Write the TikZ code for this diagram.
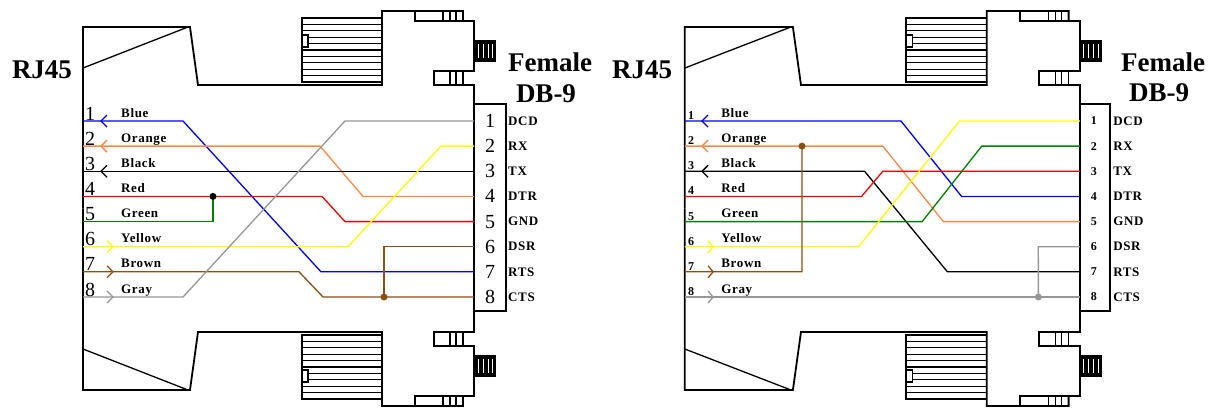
\documentclass[tikz,border=0pt]{standalone}
\usepackage{fontspec}
\setmainfont{Liberation Serif}
\newfontfamily\pixfont[LetterSpace=5]{Liberation Serif}
\definecolor{wblue}{RGB}{0,0,255}
\definecolor{worange}{RGB}{255,136,72}
\definecolor{wred}{RGB}{255,0,0}
\definecolor{wgreen}{RGB}{0,128,0}
\definecolor{wyellow}{RGB}{255,255,0}
\definecolor{wbrown}{RGB}{140,80,20}
\definecolor{wgray}{RGB}{150,150,150}
\newcommand{\halfshell}{%
	\draw[outline] (83,208.5) -- (83,27) -- (190,27) -- (198,85) -- (382,85) -- (382,11) -- (463,11) -- (463,21);
	\draw[line width=1.3pt] (83,68) -- (188,27);
	\draw[fin] (302,18) rectangle (382,82);
	\foreach \y in {24.4,30.8,37.2,43.6,50,56.4,62.8,69.2,75.6} \draw[fin] (302,\y) -- (382,\y);
	\draw[fin,fill=white] (302,35) rectangle (308,47);
	\draw[outline] (415,11) rectangle (443,21);
	\draw[outline] (415,21) -- (474,21) -- (474,71) -- (434,71) -- (434,85) -- (474,85) -- (474,208.5);
	\foreach \x in {450,456} {\draw[fin] (\x,11) -- (\x,21); \draw[fin] (\x,71) -- (\x,85);}
	\draw[fin] (463,71) -- (463,85);
	\fill (474,40) rectangle (496,62);
	\foreach \x in {478,483,488,492} \draw[white,line width=0.8pt] (\x,44) -- (\x,58);
}

\begin{document}
\begin{tikzpicture}[x=1pt,y=-1pt]
	\tikzset{outline/.style={line width=1.8pt,line join=miter}}
	\tikzset{fin/.style={line width=1.1pt}}
	\tikzset{wire/.style={line width=1.3pt}}
	\tikzset{pinnum/.style={font=\fontsize{20}{20}\selectfont,anchor=base west,inner sep=0pt}}
	\tikzset{boxnum/.style={font=\fontsize{20}{20}\selectfont,inner sep=0pt}}
	\tikzset{tinynum/.style={font=\pixfont\bfseries\fontsize{12}{12}\selectfont,inner sep=0pt}}
	\tikzset{wirelbl/.style={font=\pixfont\bfseries\fontsize{13}{13}\selectfont,anchor=base west,inner sep=0pt}}
	\tikzset{siglbl/.style={font=\pixfont\bfseries\fontsize{13}{13}\selectfont,anchor=west,inner sep=0pt}}
	\tikzset{bigtxt/.style={font=\bfseries\fontsize{27}{27}\selectfont,inner sep=0pt}}
	\useasboundingbox (0,0) rectangle (1219,408);

	\begin{scope}
		\halfshell
		\begin{scope}[shift={(0,417)},yscale=-1] \halfshell \end{scope}
		\draw[outline] (474,104) rectangle (506,311);
		\foreach \i/\y in {1/121,2/146.1,3/171.3,4/196.4,5/221.6,6/246.7,7/271.8,8/297}
			{\coordinate (aL\i) at (83,\y); \coordinate (aD\i) at (474,\y);}
		\coordinate (aJ1) at (213,196.4);
		\coordinate (aJ2) at (384,297);
		\draw[wire,wblue] (aL1) -- (183,121) -- (321,271.8) -- (aD7);
		\draw[wire,worange] (aL2) -- (320,146.1) -- (363,196.4) -- (aD4);
		\draw[wire,black] (aL3) -- (aD3);
		\draw[wire,wred] (aL4) -- (322,196.4) -- (345,221.6) -- (aD5);
		\draw[wire,wgreen] (aL5) -- (213,221.6) -- (aJ1);
		\draw[wire,wyellow] (aL6) -- (348,246.7) -- (441,146.1) -- (aD2);
		\draw[wire,wbrown] (aL7) -- (299,271.8) -- (323,297) -- (aD8);
		\draw[wire,wbrown] (aJ2) -- (384,246.7) -- (aD6);
		\draw[wire,wgray] (aL8) -- (183,297) -- (345,121) -- (aD1);
		\fill[black] (aJ1) circle (3.5pt);
		\fill[wbrown] (aJ2) circle (3.5pt);
		\foreach \y/\c in {121/wblue,146.1/worange,171.3/black}
			\draw[wire,\c] (107,\y-6) -- (101,\y) -- (107,\y+6);
		\foreach \y/\c in {246.7/wyellow,271.8/wbrown,297/wgray}
			\draw[wire,\c] (107,\y-6) -- (113,\y) -- (107,\y+6);
		\foreach \i/\y/\c in {1/121/Blue,2/146.1/Orange,3/171.3/Black,4/196.4/Red,5/221.6/Green,6/246.7/Yellow,7/271.8/Brown,8/297/Gray}
			{\node[pinnum] (aN\i) at (85,\y-1) {\i};
			\node[wirelbl] (aC\i) at (121,\y-4) {\c};}
		\foreach \i/\y/\s in {1/121/DCD,2/146.1/RX,3/171.3/TX,4/196.4/DTR,5/221.6/GND,6/246.7/DSR,7/271.8/RTS,8/297/CTS}
			{\node[boxnum] (aB\i) at (490,\y) {\i};
			\node[siglbl] (aS\i) at (508,\y) {\s};}
	\end{scope}

	\begin{scope}[shift={(601,0)},xscale=1.01]
		\halfshell
		\begin{scope}[shift={(0,417)},yscale=-1] \halfshell \end{scope}
		\draw[outline] (474,104) rectangle (504,311);
		\foreach \i/\y in {1/121,2/146.1,3/171.3,4/196.4,5/221.6,6/246.7,7/271.8,8/297}
			{\coordinate (bL\i) at (83,\y); \coordinate (bD\i) at (474,\y);}
		\coordinate (bJ1) at (199,146.1);
		\coordinate (bJ2) at (433,297);
		\draw[wire,wblue] (bL1) -- (297,121) -- (357,196.4) -- (bD4);
		\draw[wire,worange] (bL2) -- (279,146.1) -- (339,221.6) -- (bD5);
		\draw[wire,black] (bL3) -- (261,171.3) -- (343,271.8) -- (bD7);
		\draw[wire,wred] (bL4) -- (258,196.4) -- (279,171.3) -- (bD3);
		\draw[wire,wgreen] (bL5) -- (318,221.6) -- (377,146.1) -- (bD2);
		\draw[wire,wyellow] (bL6) -- (255,246.7) -- (355,121) -- (bD1);
		\draw[wire,wbrown] (bL7) -- (199,271.8) -- (bJ1);
		\draw[wire,wgray] (bL8) -- (bD8);
		\draw[wire,wgray] (bJ2) -- (433,246.7) -- (bD6);
		\fill[wbrown] (bJ1) circle (3.5pt);
		\fill[wgray] (bJ2) circle (3.5pt);
		\foreach \y/\c in {121/wblue,146.1/worange,171.3/black}
			\draw[wire,\c] (106,\y-6) -- (100,\y) -- (106,\y+6);
		\foreach \y/\c in {246.7/wyellow,271.8/wbrown,297/wgray}
			\draw[wire,\c] (106,\y-6) -- (111,\y) -- (106,\y+6);
		\foreach \i/\y/\c in {1/121/Blue,2/146.1/Orange,3/171.3/Black,4/196.4/Red,5/221.6/Green,6/246.7/Yellow,7/271.8/Brown,8/297/Gray}
			{\node[tinynum,anchor=base west] (bN\i) at (86,\y-1.5) {\i};
			\node[wirelbl] (bC\i) at (119,\y-4) {\c};}
		\foreach \i/\y/\s in {1/121/DCD,2/146.1/RX,3/171.3/TX,4/196.4/DTR,5/221.6/GND,6/246.7/DSR,7/271.8/RTS,8/297/CTS}
			{\node[tinynum] (bB\i) at (488,\y) {\i};
			\node[siglbl] (bS\i) at (507,\y) {\s};}
	\end{scope}

	\node[bigtxt] (rjA) at (42,70) {RJ45};
	\node[bigtxt] (femA) at (550,62) {Female};
	\node[bigtxt] (dbA) at (546,94) {DB-9};
	\node[bigtxt] (rjB) at (642,70) {RJ45};
	\node[bigtxt] (femB) at (1163,62) {Female};
	\node[bigtxt] (dbB) at (1159,93) {DB-9};
\end{tikzpicture}
\end{document}
